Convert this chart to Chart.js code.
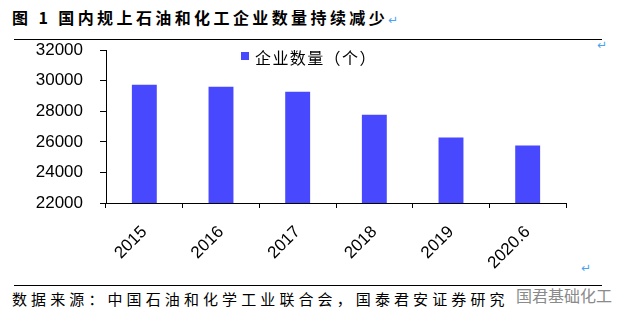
<!DOCTYPE html>
<html>
<head>
<meta charset="utf-8">
<script src="https://cdn.jsdelivr.net/npm/chart.js@4.4.0/dist/chart.umd.min.js"></script>
<style>
  body { margin: 0; width: 623px; height: 320px; background: #fff; position: relative; overflow: hidden; }
  .abs { position: absolute; white-space: nowrap; }
  #title { left: 12px; top: 5px; font: bold 16px "Noto Sans CJK SC"; letter-spacing: 3.4px; color: #000; }
  #line1 { left: 14px; top: 39px; width: 588px; height: 1px; background: #000; }
  #line2 { left: 14px; top: 285px; width: 588px; height: 1px; background: #000; }
  #source { left: 12px; top: 288px; font: 15px "Noto Sans CJK SC"; letter-spacing: 4.1px; color: #000; }
  #mark { left: 516px; top: 283px; font: 16px "Noto Sans CJK SC"; color: #8a8a8a; }
  .ret { color: #4aa3f0; font: 12px "DejaVu Sans"; letter-spacing: 0; }
  #legend { left: 241px; top: 45px; font: 16px "Noto Sans CJK SC"; letter-spacing: 1.4px; color: #000; }
  #legend i { display: inline-block; width: 8px; height: 8px; background: #4848ff; margin-right: 6px; vertical-align: 4px; }
  #wrap { position: absolute; left: 0; top: 23px; width: 623px; height: 247px; }
</style>
</head>
<body>
<div class="abs" id="title">图 1 国内规上石油和化工企业数量持续减少<span class="ret">↵</span></div>
<div class="abs" id="line1"></div>
<div class="abs ret" style="left:597px;top:38px;">↵</div>
<div class="abs ret" style="left:581px;top:261px;">↵</div>
<div id="wrap"><canvas id="myChart"></canvas></div>
<div class="abs" id="legend"><i></i>企业数量（个）</div>
<div class="abs" id="line2"></div>
<div class="abs" id="source">数据来源：中国石油和化学工业联合会，国泰君安证券研究</div>
<div class="abs" id="mark">国君基础化工</div>
<script>
const years = ["2015", "2016", "2017", "2018", "2019", "2020.6"];
const companies = [29740, 29610, 29280, 27780, 26280, 25760];
const yMin = 22000;
const yMax = 32000;
const yStep = 2000;

const axisFont = { family: "'Liberation Sans', Arial", size: 17 };

let ch = document.getElementById("myChart");
new Chart(ch, {
  type: "bar",
  data: {
    labels: years,
    datasets: [{
      label: "企业数量（个）",
      data: companies,
      backgroundColor: "#4848ff",
      barPercentage: 0.325,
      categoryPercentage: 1.0
    }]
  },
  options: {
    responsive: true,
    maintainAspectRatio: false,
    animation: false,
    layout: { padding: { top: 0, right: 57, bottom: 0, left: 0 } },
    plugins: {
      legend: { display: false },
      tooltip: { enabled: false }
    },
    scales: {
      x: {
        grid: { display: true, drawOnChartArea: false, drawTicks: true, tickLength: 5, color: "#000" },
        border: { display: true, color: "#000", width: 1 },
        ticks: { color: "#000", font: axisFont, maxRotation: 45, minRotation: 45, padding: 14 },
        afterFit: function(scale) { scale.height = 67; }
      },
      y: {
        min: yMin,
        max: yMax,
        grid: { display: true, drawOnChartArea: false, drawTicks: true, tickLength: 6, color: "#000" },
        border: { display: true, color: "#000", width: 1 },
        ticks: {
          stepSize: yStep, color: "#000", font: axisFont, padding: 17,
          callback: function(v) { return String(v); }
        },
        afterFit: function(scale) { scale.width = 106; }
      }
    }
  }
});
</script>
</body>
</html>
